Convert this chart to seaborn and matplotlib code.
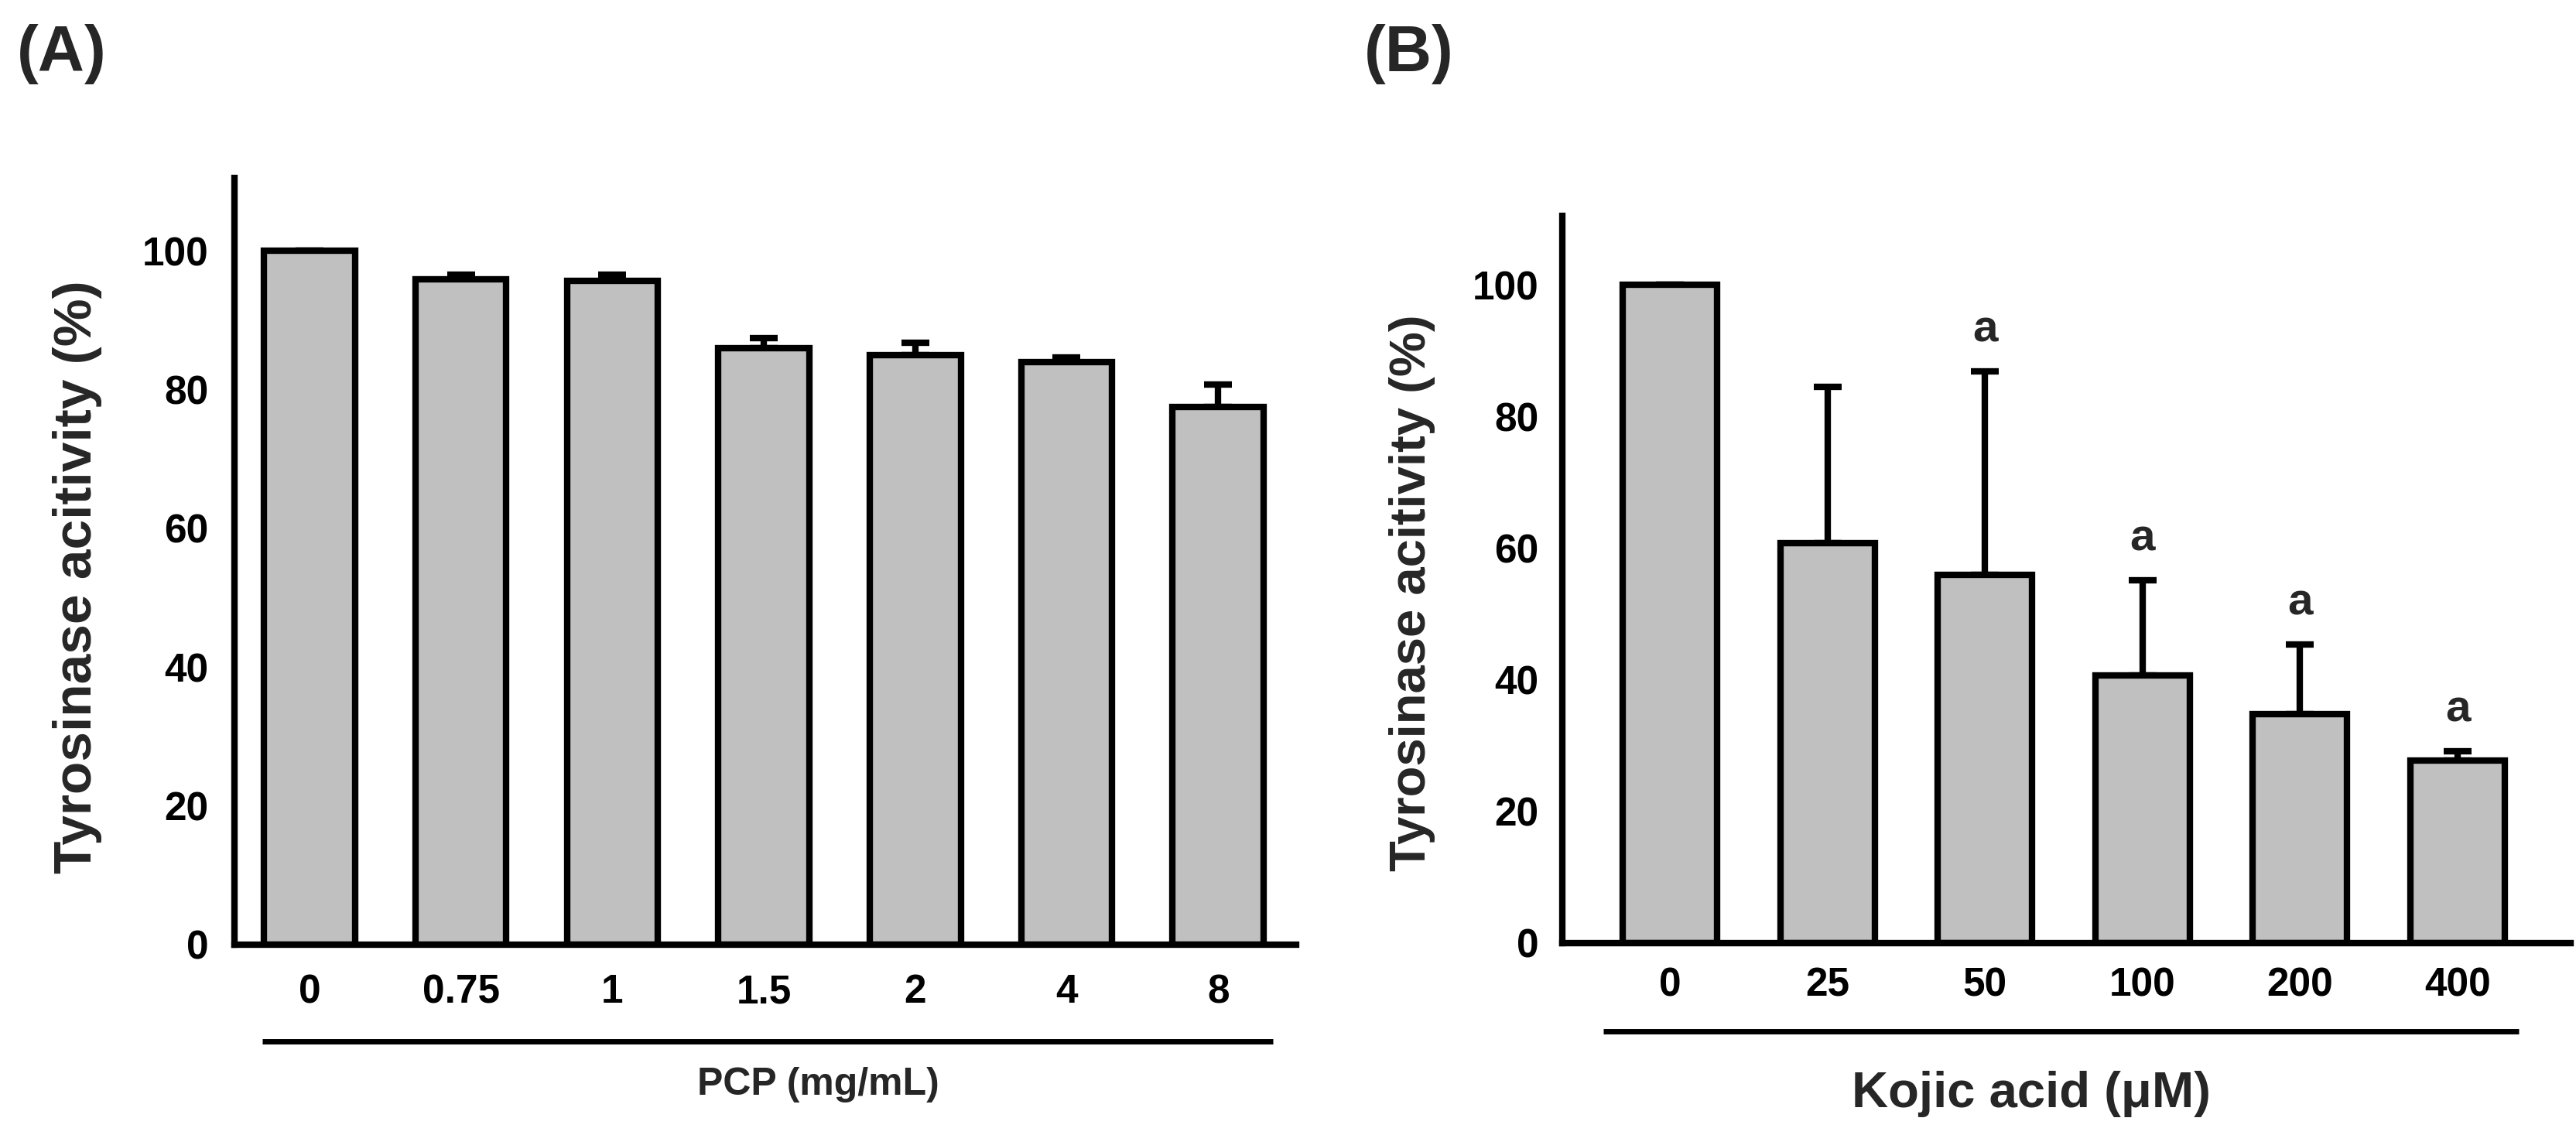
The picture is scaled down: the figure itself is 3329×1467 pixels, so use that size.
import matplotlib
matplotlib.use('Agg')
import matplotlib.pyplot as plt
import matplotlib.transforms as mtransforms
import seaborn as sns
import numpy as np
import pandas as pd

# ---------------- data ----------------
pcp_labels = ['0', '0.75', '1', '1.5', '2', '4', '8']
pcp_activity = [100, 95.9, 95.6, 86.0, 84.9, 83.9, 77.5]
pcp_err = [0, 0.6, 0.9, 1.4, 1.8, 0.7, 3.2]

kojic_labels = ['0', '25', '50', '100', '200', '400']
kojic_activity = [100, 60.8, 55.9, 40.7, 34.8, 27.7]
kojic_err = [0, 23.7, 30.9, 14.4, 10.5, 1.4]
kojic_sig = ['', '', 'a', 'a', 'a', 'a']

y_ticks = [0, 20, 40, 60, 80, 100]
ylabel_text = 'Tyrosinase acitivity (%)'
xlabel_a = 'PCP (mg/mL)'
xlabel_b = 'Kojic acid (\u03bcM)'

# ---------------- style ----------------
sns.set_theme(style='white')
plt.rcParams['font.family'] = ['Liberation Sans', 'DejaVu Sans']
plt.rcParams['axes.edgecolor'] = 'black'

W, H = 3330, 1467
fig = plt.figure(figsize=(W / 100, H / 100), dpi=100)
fig.patch.set_facecolor('white')


def px_axes(left, right, bottom, top):
    return [left / W, 1 - bottom / H, (right - left) / W, (bottom - top) / H]


def draw_panel(ax, labels, vals, errs, xlim, ytop, tick_pad_x, tick_pad_y):
    df = pd.DataFrame({'dose': labels, 'activity': vals})
    sns.barplot(data=df, x='dose', y='activity', order=labels,
                color='#C0C0C0', saturation=1, edgecolor='black',
                linewidth=6, width=0.6, errorbar=None, ax=ax, zorder=2)
    pos = np.arange(len(labels))
    ax.errorbar(pos, vals, yerr=[np.zeros(len(vals)), errs], fmt='none',
                ecolor='black', elinewidth=6, capsize=13, capthick=6,
                zorder=1.5)
    ax.set_xlim(*xlim)
    ax.set_ylim(0, ytop)
    ax.set_yticks(y_ticks)
    ax.set_xlabel('')
    ax.set_ylabel('')
    for s in ['top', 'right']:
        ax.spines[s].set_visible(False)
    for s in ['left', 'bottom']:
        ax.spines[s].set_linewidth(6)
        ax.spines[s].set_color('black')
    ax.tick_params(axis='y', direction='in', length=14, width=4,
                   labelsize=37, pad=tick_pad_y, colors='black')
    ax.tick_params(axis='x', length=0, labelsize=37, pad=tick_pad_x,
                   colors='black')
    for lab in ax.get_xticklabels() + ax.get_yticklabels():
        lab.set_fontweight('bold')
    ax.set_facecolor('white')


# Panel A
axA = fig.add_axes(px_axes(303, 1675, 1221, 230))
draw_panel(axA, pcp_labels, pcp_activity, pcp_err,
           ((303 - 400) / 195.7, (1675 - 400) / 195.7), 991 / 8.97, 27, 24)
trA = mtransforms.blended_transform_factory(axA.transData, axA.transAxes)
axA.plot([(339 - 400) / 195.7, (1645 - 400) / 195.7], [-0.126, -0.126],
         transform=trA, clip_on=False, color='black', lw=5,
         solid_capstyle='butt')
axA.text(0.5496, -0.183, xlabel_a, transform=axA.transAxes, ha='center',
         va='center', fontsize=36, fontweight='bold')

# Panel B
axB = fig.add_axes(px_axes(2019, 3322, 1219, 279))
draw_panel(axB, kojic_labels, kojic_activity, kojic_err,
           ((2019 - 2158) / 203.6, (3322 - 2158) / 203.6), 940 / 8.51, 22, 22)
trB = mtransforms.blended_transform_factory(axB.transData, axB.transAxes)
axB.plot([(2072 - 2158) / 203.6, (3255 - 2158) / 203.6], [-0.121, -0.121],
         transform=trB, clip_on=False, color='black', lw=5,
         solid_capstyle='butt')
axB.text(0.465, -0.207, xlabel_b, transform=axB.transAxes, ha='center',
         va='center', fontsize=47, fontweight='bold')
for i, s in enumerate(kojic_sig):
    if s:
        axB.annotate(s, xy=(i, kojic_activity[i] + kojic_err[i]),
                     xytext=(0, 28), textcoords='offset points',
                     ha='center', va='baseline', fontsize=42,
                     fontweight='bold')

# y labels
fig.text(100 / W, 1 - 746 / H, ylabel_text, rotation=90, ha='center',
         va='center', fontsize=50, fontweight='bold')
fig.text(1825 / W, 1 - 766 / H, ylabel_text, rotation=90, ha='center',
         va='center', fontsize=47, fontweight='bold')

# panel letters
fig.text(22 / W, 1 - 31 / H, '(A)', ha='left', va='top', fontsize=60,
         fontweight='bold')
fig.text(1763 / W, 1 - 31 / H, '(B)', ha='left', va='top', fontsize=60,
         fontweight='bold')

fig.savefig('out.png', dpi=100, facecolor='white')
